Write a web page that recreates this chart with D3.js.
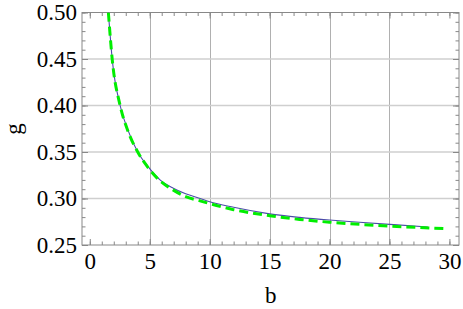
<!DOCTYPE html>
<html><head><meta charset="utf-8">
<script src="https://cdn.jsdelivr.net/npm/d3@7"></script>
<style>body{margin:0;background:#fff}svg{display:block}</style>
</head><body>
<script>
// Data
const blueB = [1.55, 1.88, 2.53, 3.2, 4.0, 4.88, 5.86, 6.97, 8.0, 9.2, 10, 12, 15, 17.5, 20, 22.5, 25, 28.2];
const blueG = [0.500, 0.4485, 0.400, 0.373, 0.350, 0.334, 0.320, 0.311, 0.305, 0.300, 0.2965, 0.2905, 0.2835, 0.2797, 0.2768, 0.2745, 0.2722, 0.2693];
const greenB = [1.55, 1.88, 2.53, 3.2, 4.0, 4.88, 5.86, 6.97, 8.0, 9.2, 10, 12, 15, 17.5, 20, 22.5, 25, 27.5, 29.9];
const greenG = [0.500, 0.4485, 0.400, 0.372, 0.350, 0.333, 0.319, 0.309, 0.302, 0.2975, 0.2945, 0.288, 0.2815, 0.2775, 0.2745, 0.2722, 0.2704, 0.2688, 0.2675];
const xMajor = [0, 5, 10, 15, 20, 25, 30];
const yMajor = [0.25, 0.30, 0.35, 0.40, 0.45, 0.50];
const xGrid = [5, 10, 15, 20, 25];
const yGrid = [0.30, 0.35, 0.40, 0.45];
const xMinor = d3.range(0, 31, 1);
const yMinor = d3.range(25, 51, 1).map(v => v / 100);

const W = 463, H = 309;
const L = 82, R = 459, T = 12.5, B = 245;
const FONT = "'Liberation Serif','Times New Roman',serif";
const FS = 23;

const svg = d3.select("body").append("svg").attr("width", W).attr("height", H);
const x = d3.scaleLinear().domain([-0.65, 30.8]).range([L, R]);
const y = d3.scaleLinear().domain([0.25, 0.5]).range([B, T]);

// grid
const g = svg.append("g");
g.selectAll("line.vg").data(xGrid).join("line")
  .attr("x1", d => Math.round(x(d)) + 0.5).attr("x2", d => Math.round(x(d)) + 0.5)
  .attr("y1", T).attr("y2", B).attr("stroke", "#b0b0b0").attr("stroke-width", 1);
g.selectAll("line.hg").data(yGrid).join("line")
  .attr("y1", d => y(d)).attr("y2", d => y(d))
  .attr("x1", L).attr("x2", R).attr("stroke", "#cfcfcf").attr("stroke-width", 1.3);

function styleAxis(sel) {
  sel.select(".domain").remove();
  sel.selectAll(".tick line").attr("stroke", "#888");
  sel.selectAll("text").attr("font-family", FONT).attr("font-size", FS).attr("fill", "#000");
}

// minor ticks (all sides)
svg.append("g").attr("transform", `translate(0,${B})`)
  .call(d3.axisBottom(x).tickValues(xMinor).tickSize(-3.5).tickFormat("")).call(styleAxis);
svg.append("g").attr("transform", `translate(0,${T})`)
  .call(d3.axisTop(x).tickValues(xMinor).tickSize(-3.5).tickFormat("")).call(styleAxis);
svg.append("g").attr("transform", `translate(${L},0)`)
  .call(d3.axisLeft(y).tickValues(yMinor).tickSize(-3.5).tickFormat("")).call(styleAxis);
svg.append("g").attr("transform", `translate(${R},0)`)
  .call(d3.axisRight(y).tickValues(yMinor).tickSize(-3.5).tickFormat("")).call(styleAxis);

// major ticks with labels
svg.append("g").attr("transform", `translate(0,${B})`)
  .call(d3.axisBottom(x).tickValues(xMajor).tickSize(-6).tickPadding(8).tickFormat(d3.format("d"))).call(styleAxis);
svg.append("g").attr("transform", `translate(0,${T})`)
  .call(d3.axisTop(x).tickValues(xMajor).tickSize(-6).tickFormat("")).call(styleAxis);
svg.append("g").attr("transform", `translate(${L},0)`)
  .call(d3.axisLeft(y).tickValues(yMajor).tickSize(-6).tickPadding(5).tickFormat(d3.format(".2f"))).call(styleAxis);
svg.append("g").attr("transform", `translate(${R},0)`)
  .call(d3.axisRight(y).tickValues(yMajor).tickSize(-6).tickFormat("")).call(styleAxis);

// frame
svg.append("rect").attr("x", L).attr("y", T).attr("width", R - L).attr("height", B - T)
  .attr("fill", "none").attr("stroke", "#888").attr("stroke-width", 1);

// curves
svg.append("clipPath").attr("id", "clip").append("rect")
  .attr("x", L).attr("y", T).attr("width", R - L).attr("height", B - T);
const line = d3.line().curve(d3.curveMonotoneX);
const bluePts = blueB.map((b, i) => [x(b), y(blueG[i])]);
const greenPts = greenB.map((b, i) => [x(b), y(greenG[i])]);
svg.append("path").attr("d", line(bluePts)).attr("fill", "none")
  .attr("stroke", "#4b4ba8").attr("stroke-width", 1.1).attr("clip-path", "url(#clip)");
svg.append("path").attr("d", line(greenPts)).attr("fill", "none")
  .attr("stroke", "#00ee00").attr("stroke-width", 3).attr("stroke-dasharray", "9,5")
  .attr("clip-path", "url(#clip)");

// axis labels
svg.append("text").attr("x", 270.7).attr("y", 303).attr("text-anchor", "middle")
  .attr("font-family", FONT).attr("font-size", FS).text("b");
svg.append("text").attr("transform", "translate(20.5,129) rotate(-90)").attr("text-anchor", "middle")
  .attr("font-family", FONT).attr("font-size", FS).text("g");
</script>
</body></html>
